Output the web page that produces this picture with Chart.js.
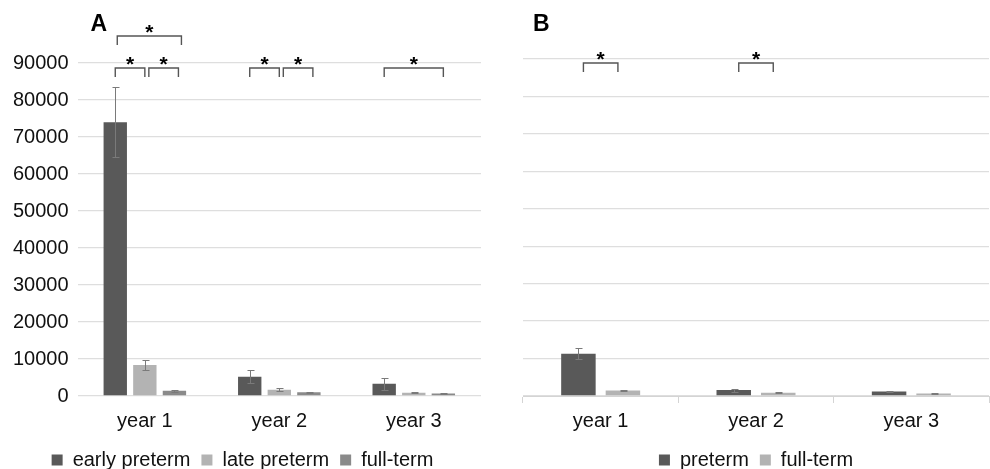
<!DOCTYPE html>
<html>
<head>
<meta charset="utf-8">
<script src="https://cdn.jsdelivr.net/npm/chart.js@4"></script>
<style>
  body { margin: 0; background: #fff; }
  #wrap { position: relative; width: 990px; height: 469px; overflow: hidden; }
  canvas { position: absolute; top: 0; }
  #chartA { left: 0; }
  #chartB { left: 495px; }
</style>
</head>
<body>
<div id="wrap">
  <canvas id="chartA" width="495" height="480"></canvas>
  <canvas id="chartB" width="495" height="480"></canvas>
</div>
<script>
const YEARS = ['year 1', 'year 2', 'year 3']

// panel A
const EARLY_PRETERM = [74000, 5200, 3300]
const EARLY_PRETERM_ERR = [9500, 1800, 1700]
const LATE_PRETERM = [8400, 1700, 900]
const LATE_PRETERM_ERR = [1300, 450, 200]
const FULL_TERM_A = [1400, 1000, 650]
const FULL_TERM_A_ERR = [200, 100, 150]

// panel B
const PRETERM = [11300, 1600, 1200]
const PRETERM_ERR = [1400, 400, 150]
const FULL_TERM_B = [1500, 900, 650]
const FULL_TERM_B_ERR = [100, 100, 150]

const Y_TICKS = [0, 10000, 20000, 30000, 40000, 50000, 60000, 70000, 80000, 90000]

// significance brackets: [category index, from bar, to bar, level (0 = low, 1 = high)]
const SIG_A = [[0, 0, 1, 0], [0, 1, 2, 0], [0, 0, 2, 1], [1, 0, 1, 0], [1, 1, 2, 0], [2, 0, 2, 0]]
const SIG_B = [[0, 0, 1, 0], [1, 0, 1, 0]]

const FONT = "'Liberation Sans', Arial, sans-serif"
const DARK = '#595959'
const LIGHT = '#b3b3b3'
const MID = '#8a8a8a'

Chart.defaults.font.family = FONT
Chart.defaults.color = '#111'

const errorBars = {
  id: 'errorBars',
  afterDatasetsDraw(chart) {
    const { ctx } = chart
    const y = chart.scales.y
    ctx.save()
    ctx.strokeStyle = '#7a7a7a'
    ctx.lineWidth = 1
    chart.data.datasets.forEach((ds, i) => {
      const meta = chart.getDatasetMeta(i)
      meta.data.forEach((bar, j) => {
        const v = ds.data[j]
        const e = ds.err[j]
        const top = Math.round(y.getPixelForValue(v + e)) + 0.5
        const bot = Math.round(y.getPixelForValue(v - e)) + 0.5
        const x = Math.round(bar.x) + 0.5
        ctx.beginPath()
        ctx.moveTo(x, top); ctx.lineTo(x, bot)
        ctx.moveTo(x - 3, top); ctx.lineTo(x + 4, top)
        ctx.moveTo(x - 3, bot); ctx.lineTo(x + 4, bot)
        ctx.stroke()
      })
    })
    ctx.restore()
  },
}

const annotations = {
  id: 'annotations',
  afterDraw(chart, args, opts) {
    const { ctx, chartArea } = chart
    ctx.save()
    ctx.fillStyle = '#000'
    ctx.font = `bold 23px ${FONT}`
    ctx.textBaseline = 'alphabetic'
    ctx.textAlign = 'left'
    ctx.fillText(opts.label, chartArea.left + opts.labelDx, 31)

    ctx.strokeStyle = '#555'
    ctx.lineWidth = 1.4
    opts.brackets.forEach(([cat, from, to, level]) => {
      const b0 = chart.getDatasetMeta(from).data[cat]
      const b1 = chart.getDatasetMeta(to).data[cat]
      let x0 = b0.x + opts.inset
      let x1 = b1.x - opts.inset
      if (to - from === 1 && opts.split) {
        if (from === 1) { x0 += 4; x1 += 4 }
      }
      if (level === 1) { x0 += 2; x1 += 7 }
      const yb = chartArea.top + opts.levels[level]
      ctx.beginPath()
      ctx.moveTo(x0, yb + 9); ctx.lineTo(x0, yb); ctx.lineTo(x1, yb); ctx.lineTo(x1, yb + 9)
      ctx.stroke()
      ctx.font = `bold 21px ${FONT}`
      ctx.textAlign = 'center'
      ctx.fillText('*', (x0 + x1) / 2, yb + 3)
    })
    ctx.restore()
  },
}

function makeOptions(p) {
  return {
    responsive: false,
    animation: false,
    layout: { padding: p.padding },
    scales: {
      x: {
        offset: true,
        grid: {
          drawOnChartArea: false,
          offset: true,
          tickLength: 7,
          color: p.xTicks ? '#d4d4d4' : 'rgba(0,0,0,0)',
        },
        border: { display: p.xTicks, color: '#d4d4d4' },
        ticks: { font: { size: 20 }, color: '#111', padding: 6 },
      },
      y: {
        min: 0,
        max: 90000,
        afterBuildTicks: (axis) => { axis.ticks = Y_TICKS.map(v => ({ value: v })) },
        grid: { color: '#dedede', drawTicks: false, lineWidth: 1.3 },
        border: { display: false },
        ticks: {
          display: p.yTicks,
          font: { size: 20 },
          color: '#111',
          padding: 9,
          callback: (v) => String(v),
        },
      },
    },
    plugins: {
      legend: {
        position: 'bottom',
        labels: { boxWidth: 11, boxHeight: 11, font: { size: 20 }, color: '#111', padding: 11 },
      },
      tooltip: { enabled: false },
      annotations: p.annotations,
    },
  }
}

new Chart(document.getElementById('chartA'), {
  type: 'bar',
  data: {
    labels: YEARS,
    datasets: [
      { label: 'early preterm', data: EARLY_PRETERM, err: EARLY_PRETERM_ERR, backgroundColor: DARK, categoryPercentage: 0.66, barPercentage: 0.79 },
      { label: 'late preterm', data: LATE_PRETERM, err: LATE_PRETERM_ERR, backgroundColor: LIGHT, categoryPercentage: 0.66, barPercentage: 0.79 },
      { label: 'full-term', data: FULL_TERM_A, err: FULL_TERM_A_ERR, backgroundColor: MID, categoryPercentage: 0.66, barPercentage: 0.79 },
    ],
  },
  options: makeOptions({
    padding: { left: 4, right: 14, top: 63, bottom: 0 },
    xTicks: false,
    yTicks: true,
    annotations: { label: 'A', labelDx: 13, brackets: SIG_A, inset: 0, split: true, levels: [5, -27] },
  }),
  plugins: [errorBars, annotations],
})

new Chart(document.getElementById('chartB'), {
  type: 'bar',
  data: {
    labels: YEARS,
    datasets: [
      { label: 'preterm', data: PRETERM, err: PRETERM_ERR, backgroundColor: DARK, categoryPercentage: 0.573, barPercentage: 0.775 },
      { label: 'full-term', data: FULL_TERM_B, err: FULL_TERM_B_ERR, backgroundColor: LIGHT, categoryPercentage: 0.573, barPercentage: 0.775 },
    ],
  },
  options: makeOptions({
    padding: { left: 28, right: 1, top: 59, bottom: 0 },
    xTicks: true,
    yTicks: false,
    annotations: { label: 'B', labelDx: 10, brackets: SIG_B, inset: 5, split: false, levels: [4, -27] },
  }),
  plugins: [errorBars, annotations],
})
</script>
</body>
</html>
